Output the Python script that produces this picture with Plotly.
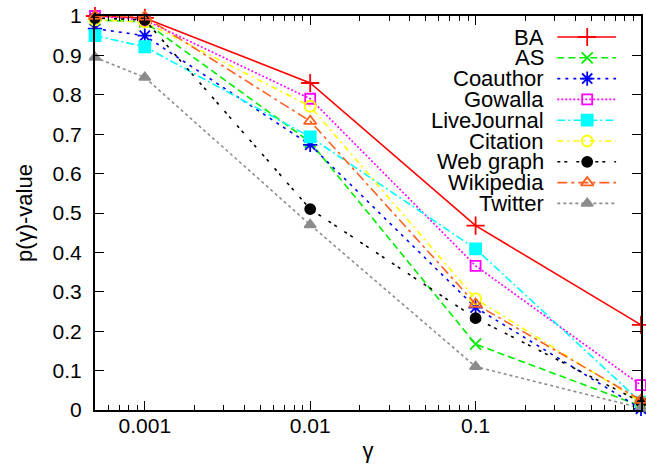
import plotly.graph_objects as go

# ---------------- data ----------------
gamma = [0.0005, 0.001, 0.01, 0.1, 1.0]

series_names = ["BA", "AS", "Coauthor", "Gowalla", "LiveJournal",
                "Citation", "Web graph", "Wikipedia", "Twitter"]

ba          = [1.000, 0.995, 0.830, 0.468, 0.216]
as_         = [0.990, 0.985, 0.680, 0.167, 0.010]
coauthor    = [0.968, 0.950, 0.673, 0.260, 0.003]
gowalla     = [1.000, 0.990, 0.790, 0.366, 0.063]
livejournal = [0.950, 0.922, 0.693, 0.409, 0.020]
citation    = [0.990, 0.985, 0.771, 0.282, 0.020]
webgraph    = [0.995, 0.990, 0.510, 0.233, 0.020]
wikipedia   = [1.000, 0.998, 0.733, 0.269, 0.025]
twitter     = [0.895, 0.844, 0.470, 0.110, 0.005]

values = [ba, as_, coauthor, gowalla, livejournal, citation, webgraph, wikipedia, twitter]

x_tickvals = [0.001, 0.01, 0.1, 1]
x_ticktext = ["0.001", "0.01", "0.1", "1"]
x_minor = [0.0006, 0.0007, 0.0008, 0.0009] + \
          [m * 0.001 for m in range(2, 10)] + \
          [m * 0.01 for m in range(2, 10)] + \
          [m * 0.1 for m in range(2, 10)]

# ---------------- styles ----------------
colors = ["#ff0000", "#00ee00", "#0000ff", "#ff00ff", "#00ffff",
          "#ffff00", "#000000", "#ff6020", "#8c8c8c"]
dashes = ["solid", "7px,4px", "3px,5px", "2px,2px", "8px,3px,2px,3px",
          "6px,4px,2px,4px", "3px,4px,3px,9px", "10px,4px,3px,4px", "3px,3px"]
symbols = ["cross-thin-open", "x-thin-open", "asterisk-open", "square-open", "square",
           "circle-open", "circle", "triangle-up-open", "triangle-up"]
msizes = [13, 11, 12, 10, 11, 11, 10, 11, 10]

FONT = "Liberation Sans, Arial, sans-serif"

fig = go.Figure()

for name, vals, c, d, s, ms in zip(series_names, values, colors, dashes, symbols, msizes):
    fig.add_trace(go.Scatter(
        x=gamma, y=vals, mode="lines+markers", name=name,
        line=dict(color=c, width=1.6, dash=d),
        marker=dict(symbol=s, size=ms, color=c, line=dict(color=c, width=1.8)),
        cliponaxis=False, showlegend=False,
    ))

# ---------------- custom gnuplot-style key ----------------
# overlay axes in pixel units of the plot area (x: 95..643, y: 410..16)
row0, step = 37.0, 20.8
for i, (name, c, d, s, ms) in enumerate(zip(series_names, colors, dashes, symbols, msizes)):
    yy = row0 + i * step
    fig.add_trace(go.Scatter(
        x=[559, 618], y=[yy, yy], mode="lines", xaxis="x2", yaxis="y2",
        line=dict(color=c, width=1.6, dash=d), showlegend=False, hoverinfo="skip",
    ))
    fig.add_trace(go.Scatter(
        x=[589], y=[yy], mode="markers", xaxis="x2", yaxis="y2",
        marker=dict(symbol=s, size=ms, color=c, line=dict(color=c, width=1.8)),
        showlegend=False, hoverinfo="skip", cliponaxis=False,
    ))
    fig.add_annotation(x=547, y=yy, xref="x2", yref="y2", text=name,
                       showarrow=False, xanchor="right", yanchor="middle",
                       borderpad=0,
                       font=dict(family=FONT, size=22, color="black"))

fig.update_layout(
    width=646, height=464,
    margin=dict(l=95, r=3, t=16, b=54),
    paper_bgcolor="white", plot_bgcolor="white",
    font=dict(family=FONT, size=20, color="black"),
    xaxis=dict(
        type="log", range=[-3.30103, 0],
        tickmode="array", tickvals=x_tickvals, ticktext=x_ticktext,
        ticks="inside", ticklen=9, tickwidth=1.3, tickcolor="black",
        minor=dict(tickmode="array", tickvals=x_minor, ticks="inside",
                   ticklen=5, tickwidth=1.3, tickcolor="black", showgrid=False),
        showline=True, linecolor="black", linewidth=2, mirror="allticks",
        showgrid=False, zeroline=False,
        tickfont=dict(family=FONT, size=21),
        ticklabelstandoff=-4,
        title=dict(text="γ", font=dict(family=FONT, size=22), standoff=6),
    ),
    yaxis=dict(
        range=[0, 1], dtick=0.1, tick0=0,
        ticks="inside", ticklen=9, tickwidth=1.3, tickcolor="black",
        showline=True, linecolor="black", linewidth=2, mirror="allticks",
        showgrid=False, zeroline=False,
        tickfont=dict(family=FONT, size=21),
        ticklabelstandoff=7,
        title=dict(text="p(γ)-value", font=dict(family=FONT, size=22), standoff=14),
    ),
    xaxis2=dict(overlaying="x", range=[95, 643], visible=False, fixedrange=True),
    yaxis2=dict(overlaying="y", range=[410, 16], visible=False, fixedrange=True),
)

fig.write_html("out.html", config={"displayModeBar": False},
               post_script="document.body.style.margin='0';")
